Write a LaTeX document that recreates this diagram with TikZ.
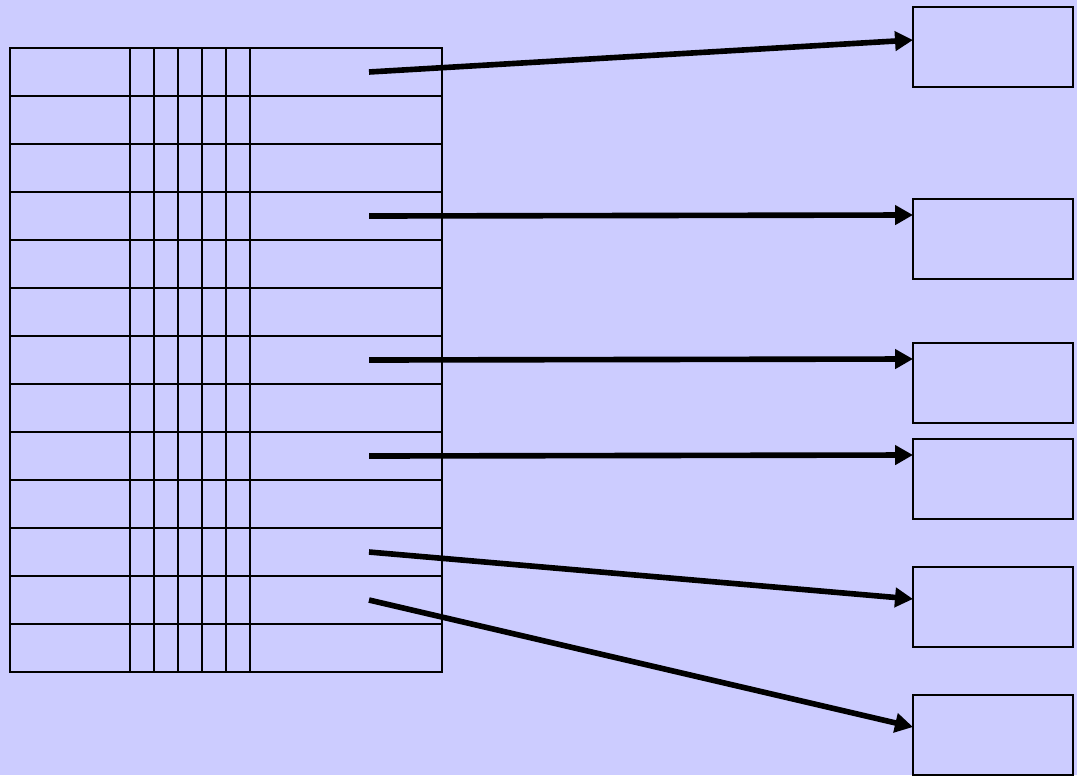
\documentclass[tikz,border=0pt]{standalone}
\usepackage{tikz}
\usetikzlibrary{arrows.meta,positioning,calc}
\usepackage{xcolor}
\definecolor{bgblue}{RGB}{204,204,255}

\begin{document}
\begin{tikzpicture}[x=0.02cm,y=-0.02cm,
  grid/.style={line width=1.3pt},
  bucket/.style={draw,line width=1.1pt,minimum width=3.2cm,minimum height=1.6cm,inner sep=0pt,outer sep=0pt,anchor=north west},
  ptr/.style={line width=3.2pt,-{Triangle[length=0.36cm,width=0.38cm]}}]
\fill[bgblue] (0,0) rectangle (1077,775);
\useasboundingbox (0,0) rectangle (1077,775);
% table of 13 rows
\draw[grid] (10,48) rectangle (442,672);
\foreach \r in {1,...,12}
  \draw[grid] (10,48+48*\r) -- (442,48+48*\r);
\foreach \c in {130,154,178,202,226,250}
  \draw[grid] (\c,48) -- (\c,672);
\foreach \r in {1,...,13}
  \coordinate (row\r) at (369,24+48*\r);
% target blocks
\node[bucket] (blk1) at (913,7) {};
\node[bucket] (blk2) at (913,199) {};
\node[bucket] (blk3) at (913,343) {};
\node[bucket] (blk4) at (913,439) {};
\node[bucket] (blk5) at (913,567) {};
\node[bucket] (blk6) at (913,695) {};
% pointers
\draw[ptr] (row1) -- ([yshift=0.14cm]blk1.west);
\draw[ptr] (row4) -- ([yshift=0.48cm]blk2.west);
\draw[ptr] (row7) -- ([yshift=0.48cm]blk3.west);
\draw[ptr] (row9) -- ([yshift=0.48cm]blk4.west);
\draw[ptr] (row11) -- ([yshift=0.16cm]blk5.west);
\draw[ptr] (row12) -- ([yshift=0.16cm]blk6.west);
\end{tikzpicture}
\end{document}
